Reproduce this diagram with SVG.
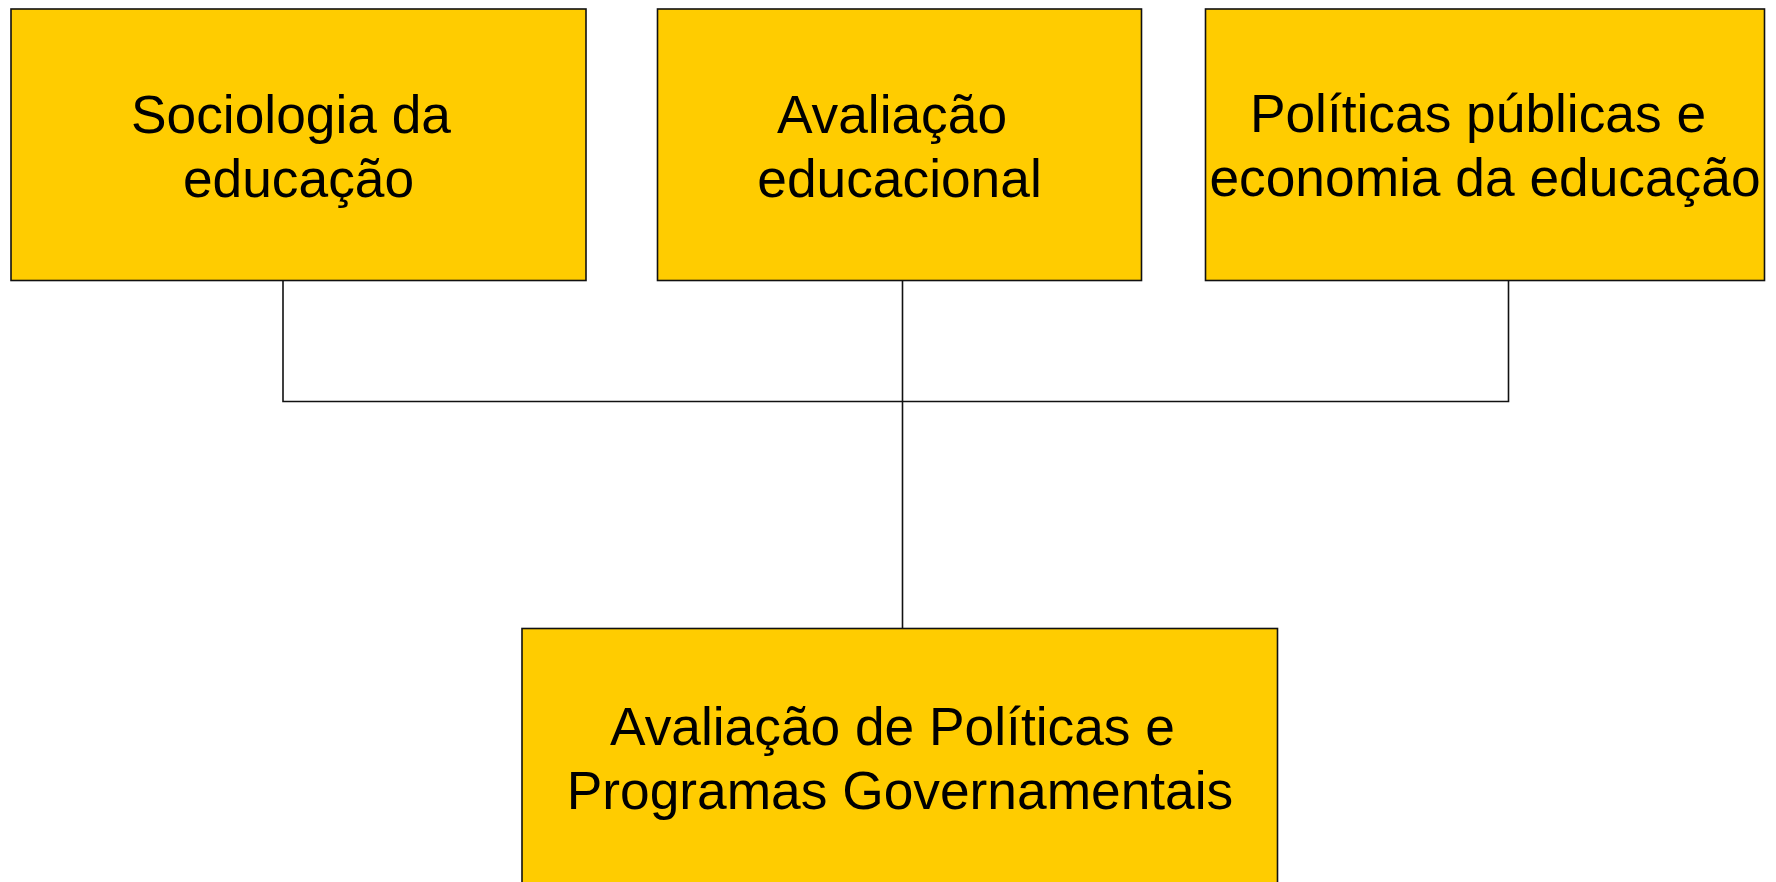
<svg xmlns="http://www.w3.org/2000/svg" width="1776" height="882" viewBox="0 0 1776 882">
<style>
.box{fill:#FFCC00;stroke:#111;stroke-width:1.6}
.lbl{font-family:"Liberation Sans",Arial,sans-serif;font-size:53.3px;fill:#000;text-anchor:middle}
.con{fill:none;stroke:#111;stroke-width:1.6}
</style>
<rect x="0" y="0" width="1776" height="882" fill="#fff"/>
<g id="connectors">
<polyline class="con" points="283,280.5 283,401.5 1508.5,401.5 1508.5,280.5"/>
<line class="con" x1="902.5" y1="280.5" x2="902.5" y2="628.5"/>
</g>
<g id="node-sociologia">
<rect class="box" x="11" y="9" width="575" height="271.5"/>
<text class="lbl" x="291" y="133">Sociologia da</text>
<text class="lbl" x="298.5" y="197">educação</text>
</g>
<g id="node-avaliacao">
<rect class="box" x="657.5" y="9" width="484" height="271.5"/>
<text class="lbl" x="892" y="133">Avaliação</text>
<text class="lbl" x="899.5" y="197">educacional</text>
</g>
<g id="node-politicas">
<rect class="box" x="1205.5" y="9" width="559" height="271.5"/>
<text class="lbl" x="1478" y="132">Políticas públicas e</text>
<text class="lbl" x="1485" y="196">economia da educação</text>
</g>
<g id="node-programas">
<rect class="box" x="522" y="628.5" width="755.5" height="280"/>
<text class="lbl" x="892.5" y="745">Avaliação de Políticas e</text>
<text class="lbl" x="900" y="809">Programas Governamentais</text>
</g>
</svg>
